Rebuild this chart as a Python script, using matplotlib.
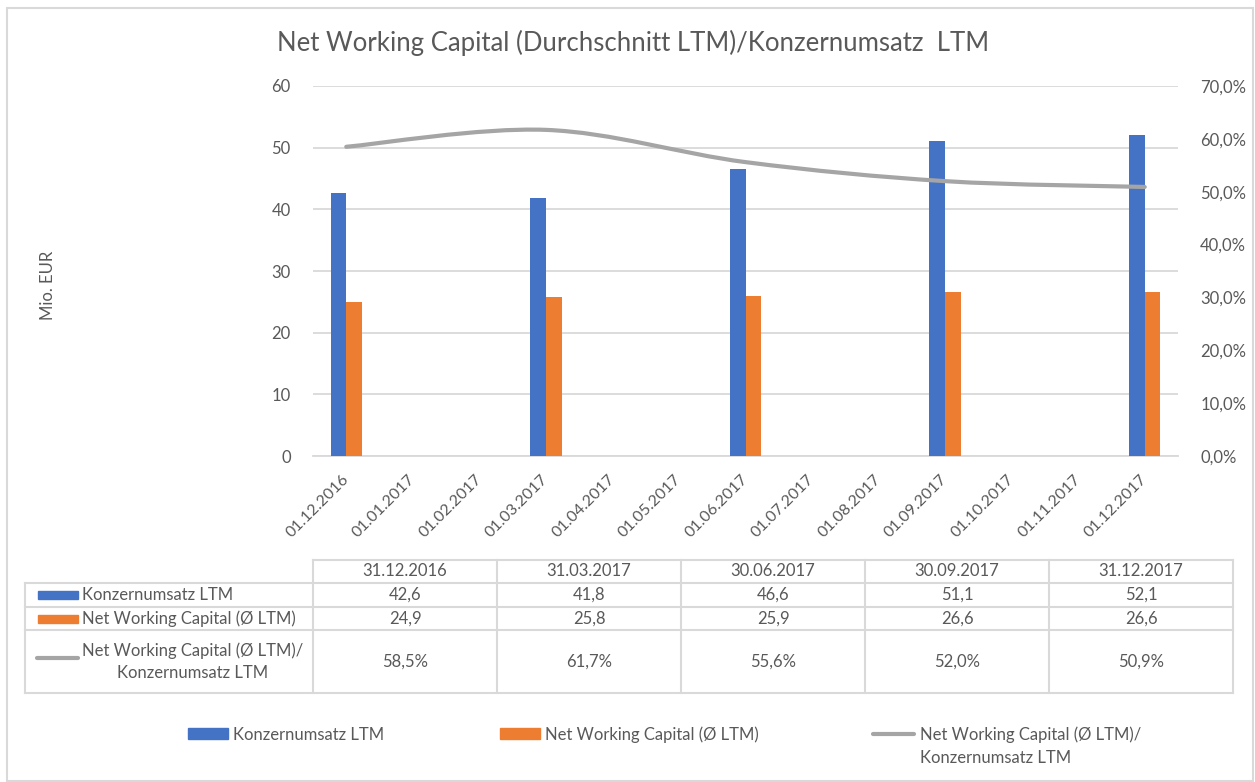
import matplotlib
matplotlib.use("Agg")
import matplotlib.pyplot as plt
from matplotlib.path import Path
from matplotlib.patches import PathPatch, Rectangle
from matplotlib.lines import Line2D
from matplotlib.ticker import FuncFormatter, MultipleLocator

# data
months = ["01.12.2016", "01.01.2017", "01.02.2017", "01.03.2017", "01.04.2017",
          "01.05.2017", "01.06.2017", "01.07.2017", "01.08.2017", "01.09.2017",
          "01.10.2017", "01.11.2017", "01.12.2017"]
periods = ["31.12.2016", "31.03.2017", "30.06.2017", "30.09.2017", "31.12.2017"]
period_months = ["01.12.2016", "01.03.2017", "01.06.2017", "01.09.2017", "01.12.2017"]
umsatz = [42.6, 41.8, 46.6, 51.1, 52.1]
nwc = [24.9, 25.8, 25.9, 26.6, 26.6]
ratio = [0.585, 0.617, 0.556, 0.520, 0.509]

name_umsatz = "Konzernumsatz LTM"
name_nwc = "Net Working Capital (Ø LTM)"
name_ratio = "Net Working Capital (Ø LTM)/\nKonzernumsatz LTM"

BLUE = "#4472C4"
ORANGE = "#ED7D31"
GRAY = "#A5A5A5"
TXT = "#595959"
GRID = "#D9D9D9"

plt.rcParams["font.family"] = ["Lato", "DejaVu Sans"]

W, H = 1255, 782
fig = plt.figure(figsize=(W / 100, H / 100), dpi=100)


def fx(x):
    return x / W


def fy(y):
    return 1 - y / H


ax = fig.add_axes([fx(313), fy(456), fx(1178) - fx(313), fy(86) - fy(456)])
ax2 = ax.twinx()

x = [months.index(m) for m in period_months]
bw = 0.235
ax.bar([i - bw / 2 for i in x], umsatz, width=bw, color=BLUE, zorder=3)
ax.bar([i + bw / 2 for i in x], nwc, width=bw, color=ORANGE, zorder=3)

ax.set_xlim(-0.5, len(months) - 0.5)
ax.set_ylim(0, 60)
ax.yaxis.set_major_locator(MultipleLocator(10))
ax.grid(axis="y", color=GRID, linewidth=1.3, zorder=0)
ax.set_axisbelow(True)
for s in ["top", "right", "left"]:
    ax.spines[s].set_visible(False)
ax.spines["bottom"].set_color(GRID)
ax.spines["bottom"].set_linewidth(1.3)
ax.tick_params(axis="y", length=0, pad=16, labelsize=12, labelcolor=TXT)
ax.set_xticks(range(len(months)))
ax.set_xticklabels(months, rotation=45, ha="right", va="center",
                   rotation_mode="anchor", fontsize=11.5, color=TXT)
ax.tick_params(axis="x", length=0, pad=15)

# smoothed line (bezier through the data points, like Excel)
pts = list(zip(x, ratio))
verts = [pts[0]]
codes = [Path.MOVETO]
for i in range(len(pts) - 1):
    p0 = pts[max(i - 1, 0)]
    p1 = pts[i]
    p2 = pts[i + 1]
    p3 = pts[min(i + 2, len(pts) - 1)]
    c1 = (p1[0] + (p2[0] - p0[0]) / 6, p1[1] + (p2[1] - p0[1]) / 6)
    c2 = (p2[0] - (p3[0] - p1[0]) / 6, p2[1] - (p3[1] - p1[1]) / 6)
    verts += [c1, c2, p2]
    codes += [Path.CURVE4] * 3
ax2.add_patch(PathPatch(Path(verts, codes), fill=False, edgecolor=GRAY,
                        linewidth=3, capstyle="round", zorder=4))
ax2.set_ylim(0, 0.7)
ax2.yaxis.set_major_locator(MultipleLocator(0.1))
ax2.yaxis.set_major_formatter(FuncFormatter(lambda v, p: f"{v * 100:.1f}%".replace(".", ",")))
ax2.tick_params(axis="y", length=0, pad=16, labelsize=12, labelcolor=TXT)
for s in ax2.spines.values():
    s.set_visible(False)

fig.text(fx(633), fy(43), "Net Working Capital (Durchschnitt LTM)/Konzernumsatz  LTM",
         ha="center", va="center", fontsize=18.5, color=TXT)
fig.text(fx(48), fy(285), "Mio. EUR", rotation=90, ha="center", va="center",
         fontsize=12, color=TXT)

# outer border
fig.add_artist(Rectangle((fx(7), fy(781)), fx(1253) - fx(7), fy(8) - fy(781),
                         transform=fig.transFigure, fill=False, edgecolor=GRID,
                         linewidth=1.5))

# data table
col_edges = [313, 497, 681, 865, 1049, 1233]
row_edges = [560, 583, 607, 630, 693]


def hline(x0, x1, y):
    fig.add_artist(Line2D([fx(x0), fx(x1)], [fy(y), fy(y)], color=GRID, lw=1.5))


def vline(xv, y0, y1):
    fig.add_artist(Line2D([fx(xv), fx(xv)], [fy(y0), fy(y1)], color=GRID, lw=1.5))


hline(313, 1233, row_edges[0])
for y in row_edges[1:]:
    hline(25, 1233, y)
for xv in col_edges:
    vline(xv, row_edges[0], row_edges[-1])
vline(25, row_edges[1], row_edges[-1])

row_mid = [(row_edges[i] + row_edges[i + 1]) / 2 for i in range(len(row_edges) - 1)]
col_mid = [(col_edges[i] + col_edges[i + 1]) / 2 for i in range(len(col_edges) - 1)]
fmt = lambda v: f"{v:.1f}".replace(".", ",")
for j, c in enumerate(col_mid):
    fig.text(fx(c), fy(row_mid[0]), periods[j], ha="center", va="center", fontsize=12, color=TXT)
    fig.text(fx(c), fy(row_mid[1]), fmt(umsatz[j]), ha="center", va="center", fontsize=12, color=TXT)
    fig.text(fx(c), fy(row_mid[2]), fmt(nwc[j]), ha="center", va="center", fontsize=12, color=TXT)
    fig.text(fx(c), fy(row_mid[3]), fmt(ratio[j] * 100) + "%", ha="center", va="center",
             fontsize=12, color=TXT)

fig.add_artist(Rectangle((fx(38), fy(599)), fx(78) - fx(38), fy(591) - fy(599),
                         transform=fig.transFigure, color=BLUE))
fig.add_artist(Rectangle((fx(38), fy(623)), fx(78) - fx(38), fy(615) - fy(623),
                         transform=fig.transFigure, color=ORANGE))
fig.add_artist(Line2D([fx(37), fx(78)], [fy(658), fy(658)], color=GRAY, lw=3,
                      solid_capstyle="round"))
fig.text(fx(82), fy(row_mid[1]), name_umsatz, ha="left", va="center", fontsize=12, color=TXT)
fig.text(fx(82), fy(row_mid[2]), name_nwc, ha="left", va="center", fontsize=12, color=TXT)
fig.text(fx(82), fy(row_mid[3]), name_ratio, ha="left", va="center", fontsize=12,
         color=TXT, multialignment="center", linespacing=1.5)

# legend below
fig.add_artist(Rectangle((fx(188), fy(739)), fx(228) - fx(188), fy(728) - fy(739),
                         transform=fig.transFigure, color=BLUE))
fig.text(fx(233), fy(735), name_umsatz, ha="left", va="center", fontsize=12, color=TXT)
fig.add_artist(Rectangle((fx(500), fy(739)), fx(540) - fx(500), fy(728) - fy(739),
                         transform=fig.transFigure, color=ORANGE))
fig.text(fx(545), fy(735), name_nwc, ha="left", va="center", fontsize=12, color=TXT)
fig.add_artist(Line2D([fx(873), fx(914)], [fy(734), fy(734)], color=GRAY, lw=3,
                      solid_capstyle="round"))
fig.text(fx(920), fy(746), name_ratio, ha="left", va="center", fontsize=12, color=TXT,
         linespacing=1.5)

fig.savefig("out.png", dpi=100)
